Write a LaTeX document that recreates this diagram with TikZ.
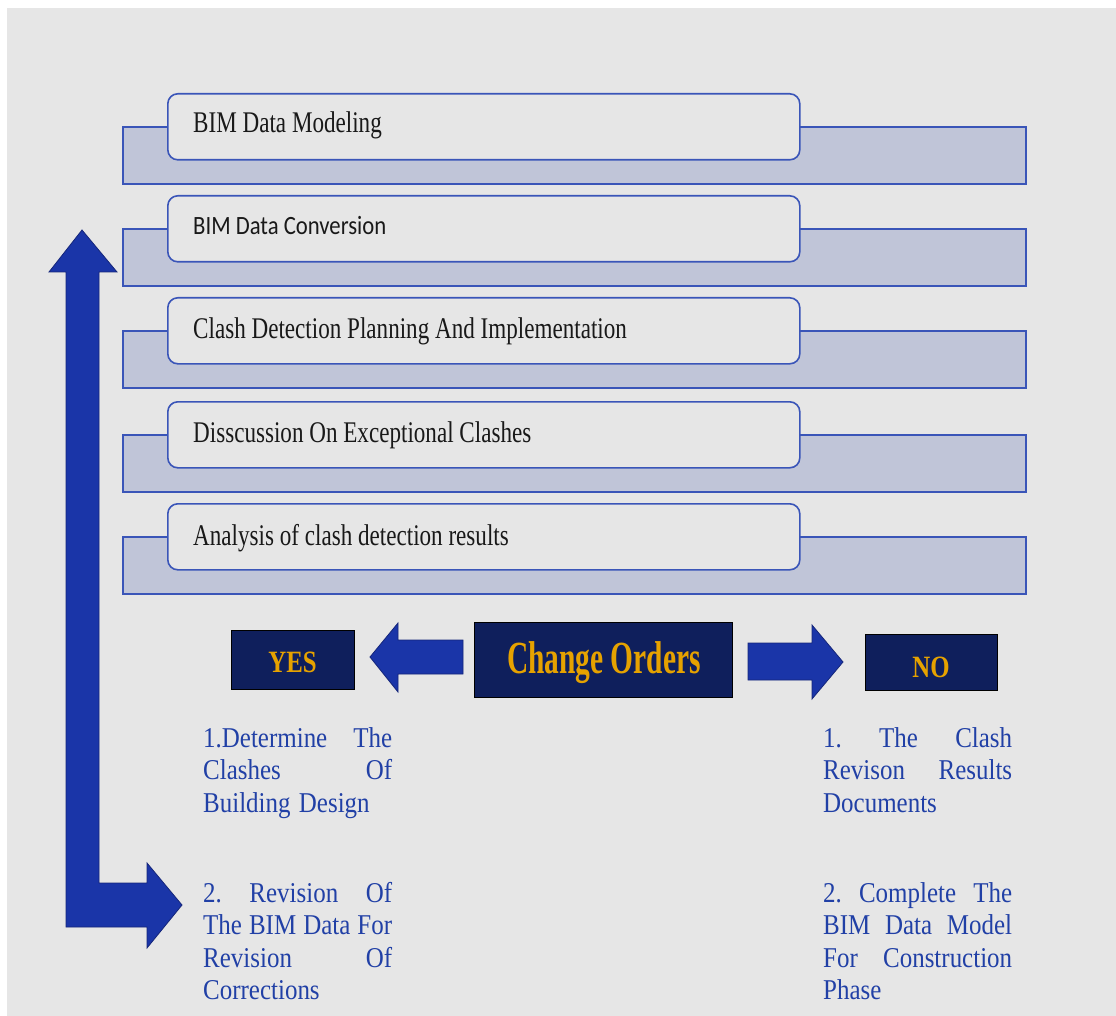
\documentclass[tikz,border=0pt]{standalone}
\usepackage{fontspec}
\usepackage{graphicx}
\setmainfont{Liberation Serif}
\newfontfamily\sansstage{Carlito}

\definecolor{pagegray}{HTML}{E6E6E6}
\definecolor{barfill}{HTML}{C0C5D8}
\definecolor{edgeblue}{HTML}{3A55B8}
\definecolor{navy}{HTML}{0F1F5C}
\definecolor{gold}{HTML}{E6A200}
\definecolor{arrowblue}{HTML}{1A35A8}
\definecolor{arrowedge}{HTML}{15267A}
\definecolor{noteblue}{HTML}{2140A6}

% horizontally condensed text
\newcommand{\narrow}[2]{\scalebox{#1}[1]{#2}}
% one justified note line, 189pt wide after condensing
\newcommand{\jline}[1]{\narrow{0.87}{\hbox to 217.2pt{#1}}}
\newcommand{\pline}[1]{\narrow{0.87}{#1}}

\tikzset{
  backbar/.style={draw=edgeblue, line width=1.6pt, fill=barfill, rectangle,
    minimum width=903pt, minimum height=57pt, anchor=north west, inner sep=0pt},
  stagebox/.style={draw=edgeblue, line width=1.6pt, fill=pagegray, rectangle,
    rounded corners=10pt, minimum width=632pt, minimum height=66pt,
    anchor=north west, inner sep=0pt},
  stagetext/.style={anchor=base west, inner sep=0pt, text=black!90,
    font=\fontsize{30}{34}\selectfont},
  navybox/.style={draw=black, line width=1.4pt, fill=navy, rectangle,
    anchor=north west, inner sep=0pt},
  goldtext/.style={anchor=base, inner sep=0pt, text=gold},
  blockarrow/.style={fill=arrowblue, draw=arrowedge, line width=0.8pt, line join=miter},
  note/.style={anchor=base west, inner sep=0pt, text width=189pt, align=left,
    text=noteblue, font=\fontsize{28.7}{32.5}\selectfont},
}

\begin{document}
\begin{tikzpicture}[x=1pt, y=-1pt]
  % page
  \useasboundingbox (0,0) rectangle (1116,1016);
  \fill[white] (0,0) rectangle (1116,1016);
  \fill[pagegray] (7,8) rectangle (1116,1016);

  % stacked stages: back bars
  \node[backbar] (bar1) at (122,126) {};
  \node[backbar] (bar2) at (122,228) {};
  \node[backbar] (bar3) at (122,330) {};
  \node[backbar] (bar4) at (122,434) {};
  \node[backbar] (bar5) at (122,536) {};

  % stacked stages: front boxes
  \node[stagebox] (box1) at (167,93) {};
  \node[stagebox] (box2) at (167,195) {};
  \node[stagebox] (box3) at (167,297) {};
  \node[stagebox] (box4) at (167,401) {};
  \node[stagebox] (box5) at (167,503) {};

  \node[stagetext] (t1) at (193,133) {\narrow{0.77}{BIM Data Modeling}};
  \node[stagetext, font=\sansstage\fontsize{26.4}{30}\selectfont] (t2) at (193,235)
    {\narrow{0.86}{BIM Data Conversion}};
  \node[stagetext] (t3) at (193,338) {\narrow{0.77}{Clash Detection Planning And Implementation}};
  \node[stagetext] (t4) at (193,442) {\narrow{0.77}{Disscussion On Exceptional Clashes}};
  \node[stagetext] (t5) at (193,545) {\narrow{0.77}{Analysis of clash detection results}};

  % decision row
  \node[navybox, minimum width=258pt, minimum height=75pt] (co) at (474,622) {};
  \node[goldtext, font=\bfseries\fontsize{46}{50}\selectfont] (colabel) at (604,673)
    {\narrow{0.64}{Change Orders}};
  \node[navybox, minimum width=123pt, minimum height=59pt] (yes) at (231,630) {};
  \node[goldtext, font=\bfseries\fontsize{31}{34}\selectfont] (yeslabel) at (292.5,672)
    {\narrow{0.8}{YES}};
  \node[navybox, minimum width=132pt, minimum height=56pt] (no) at (865,634) {};
  \node[goldtext, font=\bfseries\fontsize{31}{34}\selectfont] (nolabel) at (931,677)
    {\narrow{0.8}{NO}};

  % block arrows out of the decision box
  \draw[blockarrow] (463,640) -- (398,640) -- (398,623) -- (370,657) -- (398,692)
    -- (398,674) -- (463,674) -- cycle;
  \draw[blockarrow] (748,643) -- (812,643) -- (812,625) -- (843,662) -- (812,699)
    -- (812,680) -- (748,680) -- cycle;

  % feedback arrow back to the top
  \draw[blockarrow] (82,230) -- (117,272) -- (99,272) -- (99,883) -- (147,883)
    -- (147,863) -- (182,905) -- (147,948) -- (147,927) -- (66,927) -- (66,272)
    -- (49,272) -- cycle;

  % notes
  \node[note] (yes1) at (203,747)
    {\jline{1.Determine\hfill The}\\\jline{Clashes\hfill Of}\\\pline{Building Design}};
  \node[note] (yes2) at (203,902)
    {\jline{2.\hfill Revision\hfill Of}\\\jline{The\hfill BIM\hfill Data\hfill For}\\\jline{Revision\hfill Of}\\\pline{Corrections}};
  \node[note] (no1) at (823,747)
    {\jline{1.\hfill The\hfill Clash}\\\jline{Revison\hfill Results}\\\pline{Documents}};
  \node[note] (no2) at (823,902)
    {\jline{2.\hfill Complete\hfill The}\\\jline{BIM\hfill Data\hfill Model}\\\jline{For\hfill Construction}\\\pline{Phase}};
\end{tikzpicture}
\end{document}
